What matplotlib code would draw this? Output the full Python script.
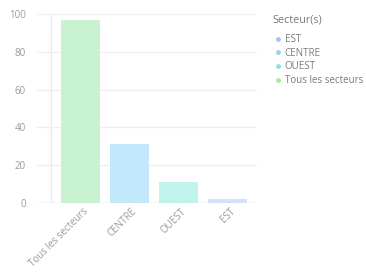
import matplotlib
matplotlib.use("Agg")
from matplotlib import pyplot as plt
from matplotlib.lines import Line2D
import matplotlib.transforms as mtransforms

# data
categories = ['Tous les secteurs', 'CENTRE', 'OUEST', 'EST']
values = [97, 31, 11, 2]
barColors = ['#c9f2d2', '#c3e7fb', '#c0f3eb', '#d3e2fb']

legendLabels = ['EST', 'CENTRE', 'OUEST', 'Tous les secteurs']
legendColors = ['#a9c1f2', '#92d3f6', '#86e8d5', '#a7e8a9']

yTicks = [0, 20, 40, 60, 80, 100]

plt.rcParams['font.family'] = ['Open Sans', 'DejaVu Sans']

fig = plt.figure(figsize=(3.66, 2.72), dpi=100)
ax = fig.add_axes([37/366, (272-203)/272, (257-37)/366, (203-14)/272])

x = list(range(len(categories)))
ax.bar(x, values, width=0.8, color=barColors, zorder=3)

ax.set_xlim(-0.888, 3.602)
ax.set_ylim(0, 100)
ax.set_yticks(yTicks)
ax.set_xticks(x)
ax.set_xticklabels(categories, rotation=45, ha='right', va='center',
                   rotation_mode='anchor', fontsize=7, color='#9a9a9a')
ax.tick_params(axis='y', length=0, pad=8, labelsize=7, labelcolor='#9a9a9a')
ax.tick_params(axis='x', length=0, pad=5)
offset = mtransforms.ScaledTranslation(6/100, 0, fig.dpi_scale_trans)
for lbl in ax.get_xticklabels():
    lbl.set_transform(lbl.get_transform() + offset)

ax.grid(axis='y', color='#efefef', linewidth=0.9, zorder=0)
for s in ax.spines.values():
    s.set_visible(False)
ax.axhline(0, color='#d0d0d0', linewidth=0.9, zorder=4)
ax.axvline(-0.602, color='#e8e8e8', linewidth=0.9, zorder=1)

# legend: title as separate text so the gap matches
fig.text(272/366, 1 - 20/272, 'Secteur(s)', fontsize=7.8, color='#7a7a7a',
         ha='left', va='center')
handles = [Line2D([], [], linestyle='none', marker='o', markersize=2.5,
                  markerfacecolor=c, markeredgecolor=c) for c in legendColors]
leg = fig.legend(handles, legendLabels, loc='upper left',
                 bbox_to_anchor=(273/366, 1 - 32/272), frameon=False,
                 fontsize=7, labelspacing=0.28,
                 handlelength=0.6, handletextpad=0.4, borderpad=0.2,
                 borderaxespad=0)
for t in leg.get_texts():
    t.set_color('#7a7a7a')

fig.savefig('out.png', dpi=100)
